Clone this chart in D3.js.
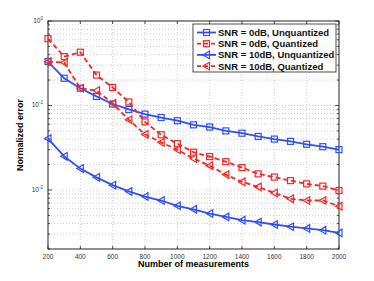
<!DOCTYPE html>
<html>
<head>
<meta charset="utf-8">
<script src="https://cdn.jsdelivr.net/npm/d3@7"></script>
<style>
  body { margin: 0; background: #fff; }
  svg { font-family: "Liberation Sans", Arial, sans-serif; }
</style>
</head>
<body>
<div id="vis"></div>
<script>
// Measurements on the x axis
const measurements = [200, 300, 400, 500, 600, 700, 800, 900, 1000, 1100, 1200, 1300, 1400, 1500, 1600, 1700, 1800, 1900, 2000];

// Normalized error
const snr0Unq = [0.331, 0.21, 0.16, 0.128, 0.104, 0.0897, 0.079, 0.072, 0.066, 0.059, 0.0556, 0.050, 0.047, 0.043, 0.040, 0.0376, 0.0347, 0.0325, 0.030];
const snr0Q = [0.618, 0.379, 0.427, 0.229, 0.163, 0.11, 0.064, 0.045, 0.0353, 0.028, 0.0248, 0.0216, 0.0184, 0.0155, 0.0142, 0.0129, 0.0118, 0.0111, 0.00984];
const snr10Unq = [0.0405, 0.025, 0.0179, 0.0141, 0.0114, 0.0096, 0.00836, 0.0075, 0.0065, 0.0059, 0.00526, 0.0048, 0.00439, 0.00417, 0.0039, 0.00367, 0.0035, 0.00334, 0.0031];
const snr10Q = [0.33, 0.322, 0.16, 0.150, 0.106, 0.0678, 0.0455, 0.0366, 0.030, 0.0235, 0.0194, 0.0152, 0.01245, 0.01087, 0.00923, 0.00785, 0.0075, 0.0075, 0.00642];

const seriesNames = ["SNR = 0dB, Unquantized", "SNR = 0dB, Quantized", "SNR = 10dB, Unquantized", "SNR = 10dB, Quantized"];
const xTicks = [200, 400, 600, 800, 1000, 1200, 1400, 1600, 1800, 2000];
const yMajor = [1, 0.1, 0.01];

const blue = "#2f4ff7";
const red = "#ff2222";

const series = [
  { name: seriesNames[0], values: snr0Unq, color: blue, dash: null, marker: "square" },
  { name: seriesNames[1], values: snr0Q, color: red, dash: "5,3", marker: "square" },
  { name: seriesNames[2], values: snr10Unq, color: blue, dash: null, marker: "triangle" },
  { name: seriesNames[3], values: snr10Q, color: red, dash: "5,3", marker: "triangle" }
];

const width = 374, height = 281;
const margin = { left: 48, right: 35, top: 21, bottom: 32 };

const svg = d3.select("#vis").append("svg")
  .attr("width", width)
  .attr("height", height);

const x = d3.scaleLinear().domain([200, 2000]).range([margin.left, width - margin.right]);
const y = d3.scaleLog().domain([0.002, 1]).range([height - margin.bottom, margin.top]);

// grid: vertical at major x ticks, horizontal at every log tick
const yAll = y.ticks();
const grid = svg.append("g").attr("stroke", "#c0c0c0").attr("stroke-width", 0.8).attr("stroke-dasharray", "1,2");
grid.selectAll(".gx").data(xTicks.slice(1, -1)).enter().append("line")
  .attr("x1", d => x(d)).attr("x2", d => x(d))
  .attr("y1", y.range()[0]).attr("y2", y.range()[1]);
grid.selectAll(".gy").data(yAll.filter(d => d > 0.002 && d < 1)).enter().append("line")
  .attr("x1", x.range()[0]).attr("x2", x.range()[1])
  .attr("y1", d => y(d)).attr("y2", d => y(d));

// plot box
svg.append("rect")
  .attr("x", x.range()[0]).attr("y", y.range()[1])
  .attr("width", x.range()[1] - x.range()[0])
  .attr("height", y.range()[0] - y.range()[1])
  .attr("fill", "none").attr("stroke", "#222").attr("stroke-width", 1);

// inward ticks
const ticks = svg.append("g").attr("stroke", "#222").attr("stroke-width", 0.8);
xTicks.forEach(t => {
  ticks.append("line").attr("x1", x(t)).attr("x2", x(t)).attr("y1", y.range()[0]).attr("y2", y.range()[0] - 3);
  ticks.append("line").attr("x1", x(t)).attr("x2", x(t)).attr("y1", y.range()[1]).attr("y2", y.range()[1] + 3);
});
yAll.forEach(t => {
  const len = yMajor.includes(t) ? 4 : 2;
  ticks.append("line").attr("x1", x.range()[0]).attr("x2", x.range()[0] + len).attr("y1", y(t)).attr("y2", y(t));
  ticks.append("line").attr("x1", x.range()[1]).attr("x2", x.range()[1] - len).attr("y1", y(t)).attr("y2", y(t));
});

// tick labels
svg.append("g").selectAll("text").data(xTicks).enter().append("text")
  .attr("x", d => x(d)).attr("y", y.range()[0] + 10)
  .attr("text-anchor", "middle")
  .attr("font-size", 6.5).attr("fill", "#333")
  .text(d => d);

const yl = svg.append("g").selectAll("g").data(yMajor).enter().append("text")
  .attr("x", x.range()[0] - 5).attr("y", d => y(d) + 2)
  .attr("text-anchor", "end")
  .attr("font-size", 6.5).attr("fill", "#333");
yl.append("tspan").text("10");
yl.append("tspan").attr("dy", -3).attr("font-size", 4.5).text(d => Math.round(Math.log10(d)));

// axis titles
svg.append("text")
  .attr("x", (x.range()[0] + x.range()[1]) / 2).attr("y", 267)
  .attr("text-anchor", "middle").attr("font-size", 9).attr("font-weight", "bold")
  .text("Number of measurements");
svg.append("text")
  .attr("transform", `translate(23,${(y.range()[0] + y.range()[1]) / 2}) rotate(-90)`)
  .attr("text-anchor", "middle").attr("font-size", 9).attr("font-weight", "bold")
  .text("Normalized error");

function drawMarker(g, type, cx, cy, color) {
  if (type === "square") {
    g.append("rect").attr("x", cx - 3).attr("y", cy - 3).attr("width", 6).attr("height", 6)
      .attr("fill", "none").attr("stroke", color).attr("stroke-width", 1.2);
  } else {
    g.append("path").attr("d", `M${cx - 3.5},${cy} L${cx + 3},${cy - 3.8} L${cx + 3},${cy + 3.8} Z`)
      .attr("fill", "none").attr("stroke", color).attr("stroke-width", 1.2);
  }
}

const line = d3.line().x((d, i) => x(measurements[i])).y(d => y(d));

series.forEach(s => {
  const g = svg.append("g");
  g.append("path").datum(s.values)
    .attr("d", line)
    .attr("fill", "none").attr("stroke", s.color).attr("stroke-width", 1.8)
    .attr("stroke-dasharray", s.dash);
  s.values.forEach((v, i) => drawMarker(g, s.marker, x(measurements[i]), y(v), s.color));
});

// legend
const lg = svg.append("g");
lg.append("rect").attr("x", 193).attr("y", 24).attr("width", 143).attr("height", 48)
  .attr("fill", "#fff").attr("stroke", "#222").attr("stroke-width", 0.8);
series.forEach((s, i) => {
  const ly = 32.5 + i * 11.2;
  lg.append("line").attr("x1", 197).attr("x2", 216).attr("y1", ly).attr("y2", ly)
    .attr("stroke", s.color).attr("stroke-width", 1.8).attr("stroke-dasharray", s.dash ? "4,3" : null);
  drawMarker(lg, s.marker, 206.5, ly, s.color);
  lg.append("text").attr("x", 218).attr("y", ly + 3.4)
    .attr("font-size", 9.5).attr("font-weight", "bold").attr("fill", "#111")
    .text(s.name);
});
</script>
</body>
</html>
